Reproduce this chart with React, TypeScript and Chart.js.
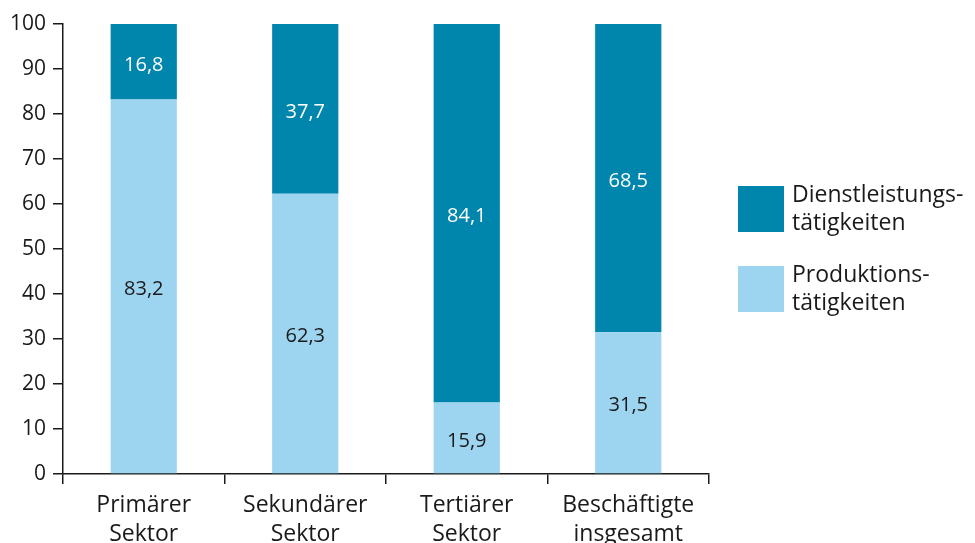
import React, { useEffect, useRef } from "react";
import { Chart, registerables } from "chart.js";

Chart.register(...registerables);

const categories: string[][] = [
  ["Primärer", "Sektor"],
  ["Sekundärer", "Sektor"],
  ["Tertiärer", "Sektor"],
  ["Beschäftigte", "insgesamt"],
];
const produktion = [83.2, 62.3, 15.9, 31.5];
const dienstleistung = [16.8, 37.7, 84.1, 68.5];
const legendLabels: string[][] = [
  ["Dienstleistungs-", "tätigkeiten"],
  ["Produktions-", "tätigkeiten"],
];
const yTicks = [0, 10, 20, 30, 40, 50, 60, 70, 80, 90, 100];

const DARK = "#0086ad";
const LIGHT = "#9dd4f0";
const FONT = "'Open Sans', 'Noto Sans', sans-serif";

const valueLabels = {
  id: "valueLabels",
  afterDatasetsDraw(chart: any) {
    const ctx = chart.ctx;
    ctx.save();
    ctx.font = `20px ${FONT}`;
    ctx.textAlign = "center";
    ctx.textBaseline = "middle";
    chart.data.datasets.forEach((ds: any, di: number) => {
      const meta = chart.getDatasetMeta(di);
      meta.data.forEach((bar: any, i: number) => {
        const v = ds.data[i];
        const y = (bar.y + bar.base) / 2 + 3;
        ctx.fillStyle = ds.labelColor;
        ctx.fillText(String(v).replace(".", ","), bar.x, y);
      });
    });
    ctx.restore();
  },
};

const sideLegend = {
  id: "sideLegend",
  afterDraw(chart: any) {
    const ctx = chart.ctx;
    ctx.save();
    const order = [1, 0];
    const boxX = 738;
    const boxSize = 46;
    const tops = [186, 266];
    order.forEach((di, k) => {
      const ds = chart.data.datasets[di];
      ctx.fillStyle = ds.backgroundColor;
      ctx.fillRect(boxX, tops[k], boxSize, boxSize);
      ctx.fillStyle = "#1a1a1a";
      ctx.font = `23px ${FONT}`;
      ctx.textAlign = "left";
      ctx.textBaseline = "middle";
      const lines = legendLabels[k];
      lines.forEach((ln, j) => {
        ctx.fillText(ln, 792, tops[k] + 9 + j * 28);
      });
    });
    ctx.restore();
  },
};

export default function App() {
  const ref = useRef<HTMLCanvasElement>(null);
  useEffect(() => {
    if (!ref.current) return;
    const chart = new Chart(ref.current, {
      type: "bar",
      data: {
        labels: categories,
        datasets: [
          {
            label: "Produktionstätigkeiten",
            data: produktion,
            backgroundColor: LIGHT,
            borderWidth: 0,
            barPercentage: 0.41,
            categoryPercentage: 1,
            labelColor: "#1a1a1a",
          } as any,
          {
            label: "Dienstleistungstätigkeiten",
            data: dienstleistung,
            backgroundColor: DARK,
            borderWidth: 0,
            barPercentage: 0.41,
            categoryPercentage: 1,
            labelColor: "#ffffff",
          } as any,
        ],
      },
      options: {
        animation: false,
        responsive: false,
        maintainAspectRatio: false,
        layout: { padding: { top: 24, right: 266, left: 0, bottom: 0 } },
        plugins: {
          legend: { display: false },
          tooltip: { enabled: false },
        },
        scales: {
          x: {
            stacked: true,
            offset: true,
            grid: {
              offset: true,
              drawOnChartArea: false,
              drawTicks: true,
              tickLength: 10,
              color: "#1a1a1a",
              lineWidth: 1.5,
            },
            border: { display: true, color: "#1a1a1a", width: 1.5 },
            ticks: {
              color: "#1a1a1a",
              font: { family: FONT, size: 23, lineHeight: 1.27 },
              padding: 7,
              maxRotation: 0,
              autoSkip: false,
            },
            afterFit(scale: any) {
              scale.height = 69;
            },
          },
          y: {
            stacked: true,
            min: 0,
            max: 100,
            afterBuildTicks(scale: any) {
              scale.ticks = yTicks.map((v) => ({ value: v }));
            },
            grid: {
              drawOnChartArea: false,
              drawTicks: true,
              tickLength: 10,
              color: "#1a1a1a",
              lineWidth: 1.5,
            },
            border: { display: true, color: "#1a1a1a", width: 1.5 },
            ticks: {
              color: "#1a1a1a",
              font: { family: FONT, size: 21 },
              padding: 7,
            },
            afterFit(scale: any) {
              scale.width = 63;
            },
          },
        },
      },
      plugins: [valueLabels, sideLegend],
    });
    return () => chart.destroy();
  }, []);
  return (
    <div style={{ position: "fixed", left: 0, top: 0, width: 975, height: 543, background: "#fff" }}>
      <canvas ref={ref} width={975} height={543} style={{ width: 975, height: 543 }} />
    </div>
  );
}
